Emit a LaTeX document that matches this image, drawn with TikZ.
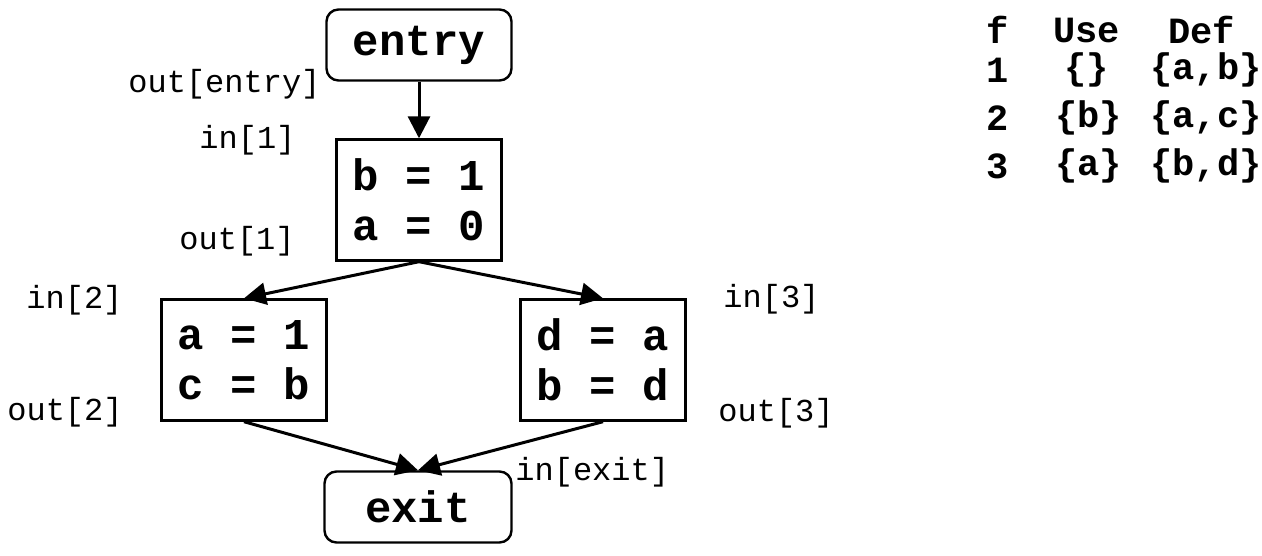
\documentclass[tikz,border=0pt]{standalone}
\usepackage{fontspec}
\setmonofont{Liberation Mono}
\usetikzlibrary{arrows.meta}
\tikzset{
  blk/.style={draw, line width=1.2pt, minimum width=82.5pt, minimum height=60.5pt, inner sep=0pt, align=center, font=\ttfamily\bfseries\fontsize{22}{25}\selectfont},
  term/.style={draw, line width=1.2pt, rounded corners=6pt, minimum height=35.5pt, inner sep=0pt, font=\ttfamily\bfseries\fontsize{22}{25}\selectfont},
  lbl/.style={anchor=west, inner sep=0pt, font=\ttfamily\fontsize{16}{18}\selectfont},
  tbl/.style={anchor=west, inner sep=0pt, font=\ttfamily\bfseries\fontsize{18.5}{20}\selectfont},
  flow/.style={line width=1.5pt, -{Triangle[length=11pt,width=11pt]}}
}
\begin{document}
\begin{tikzpicture}[x=0.5pt,y=-0.5pt]
\useasboundingbox (0,0) rectangle (1262,556);
% nodes
\node[term, minimum width=92.5pt] (entry) at (419,45) {entry};
\node[blk] (b1) at (419,200) {b = 1\\a = 0};
\node[blk] (b2) at (244,360) {a = 1\\c = b};
\node[blk] (b3) at (603,360) {d = a\\b = d};
\node[term, minimum width=93.5pt] (exit) at (418,507) {exit};
% edges
\draw[flow] (entry) -- (b1);
\draw[flow] (b1.south) -- (b2.north);
\draw[flow] (b1.south) -- (b3.north);
\draw[flow] (b2.south) -- (exit.north);
\draw[flow] (b3.south) -- (exit.north);
% labels
\node[lbl] (loe) at (128,84) {out[entry]};
\node[lbl] (li1) at (199,140) {in[1]};
\node[lbl] (lo1) at (179,241) {out[1]};
\node[lbl] (li2) at (26,300) {in[2]};
\node[lbl] (lo2) at (7,412) {out[2]};
\node[lbl] (li3) at (723,299) {in[3]};
\node[lbl] (lo3) at (718,413) {out[3]};
\node[lbl] (lix) at (515,472) {in[exit]};
% table
\node[tbl] (th1) at (986,30) {f};
\node[tbl] (th2) at (1053,30) {Use};
\node[tbl] (th3) at (1168,30) {Def};
\node[tbl] (r1a) at (986,70) {1};
\node[tbl] (r1b) at (1064,70) {\{\}};
\node[tbl] (r1c) at (1150,70) {\{a,b\}};
\node[tbl] (r2a) at (986,118) {2};
\node[tbl] (r2b) at (1055,118) {\{b\}};
\node[tbl] (r2c) at (1150,118) {\{a,c\}};
\node[tbl] (r3a) at (986,166) {3};
\node[tbl] (r3b) at (1055,166) {\{a\}};
\node[tbl] (r3c) at (1150,166) {\{b,d\}};
\end{tikzpicture}
\end{document}
